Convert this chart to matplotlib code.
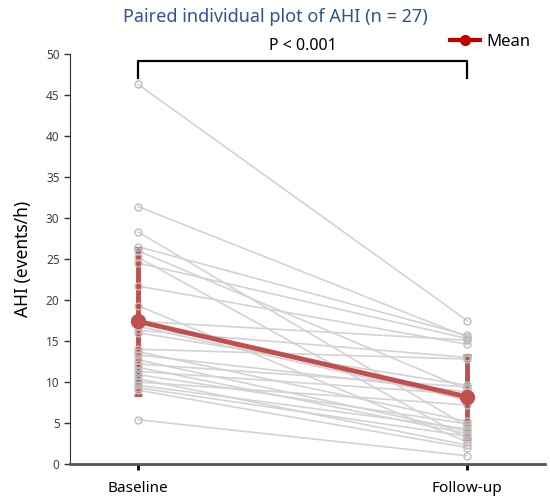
import numpy as np
import matplotlib
matplotlib.use("Agg")
import matplotlib.pyplot as plt
from matplotlib.lines import Line2D

plt.rcParams['font.family'] = ['Noto Sans', 'DejaVu Sans']

# ---- data ----
groups = ["Baseline", "Follow-up"]
baseline = [46.3, 31.4, 28.3, 26.5, 26.0, 25.2, 24.5, 21.7, 19.3, 17.4, 16.8, 16.3, 16.0, 14.0,
            13.7, 13.3, 12.7, 12.2, 11.8, 11.3, 10.9, 10.4, 10.0, 9.6, 9.3, 9.0, 5.4]
followup = [17.5, 15.5, 4.6, 15.7, 9.1, 3.1, 15.3, 14.6, 2.7, 15.1, 7.8, 13.0, 9.6, 12.8,
            5.2, 8.8, 4.0, 9.4, 3.7, 8.5, 4.9, 2.3, 7.2, 4.3, 3.4, 2.0, 1.0]
yticks = [0, 5, 10, 15, 20, 25, 30, 35, 40, 45, 50]
title = "Paired individual plot of AHI (n = 27)"
ptext = "P < 0.001"

b = np.array(baseline)
f = np.array(followup)
means = [b.mean(), f.mean()]
sds = [b.std(ddof=1), f.std(ddof=1)]

fig = plt.figure(figsize=(5.5, 4.99), dpi=100)
ax = fig.add_axes([70/550, 1-464/499, 475/550, 410/499])

xpos = [0, 1]
for y0, y1 in zip(baseline, followup):
    ax.plot(xpos, [y0, y1], color='#d3d3d3', lw=1.2, zorder=2)
ax.errorbar(xpos, means, yerr=sds, fmt='none', ecolor='#c0504d', elinewidth=3.5,
            capsize=3, capthick=2, zorder=2.5)
for y0, y1 in zip(baseline, followup):
    ax.plot(xpos, [y0, y1], linestyle='none', zorder=3,
            marker='o', ms=5, mfc='none', mec='#bdbdbd', mew=1.0)
ax.plot(xpos, means, color='#c0504d', lw=3.5, marker='o', ms=10, zorder=4)

ax.set_xlim(-0.207, 1.237)
ax.set_ylim(0, 50)
ax.set_yticks(yticks)
ax.set_xticks(xpos)
ax.set_xticklabels(groups, fontsize=11)
ax.tick_params(axis='y', labelsize=8.5, colors='#333333', direction='out', length=4, width=1)
ax.tick_params(axis='x', direction='out', length=4, width=2, colors='black', labelsize=11, pad=8)
for lab in ax.get_yticklabels():
    lab.set_color('#404040')
ax.spines['top'].set_visible(False)
ax.spines['right'].set_visible(False)
ax.spines['left'].set_color('#333333')
ax.spines['bottom'].set_color('#555555')
ax.spines['bottom'].set_linewidth(2)
ax.set_ylabel("AHI (events/h)", fontsize=12.5, labelpad=10)

# significance bracket
ax.plot([0, 0, 1, 1], [47.1, 49.1, 49.1, 47.1], color='black', lw=1.6, clip_on=False, zorder=5)
ax.text(0.5, 51.0, ptext, ha='center', va='center', fontsize=11.5, clip_on=False)

fig.text(275/550, 1-17/499, title, ha='center', va='center', fontsize=13, color='#2f5496')

handle = Line2D([0], [0], color='#c00000', lw=3, marker='o', ms=7)
fig.legend([handle], ["Mean"], loc='center', bbox_to_anchor=(490/550, 1-42/499),
           frameon=False, fontsize=12, handlelength=1.8, handletextpad=0.4)

fig.savefig("out.png", dpi=100)
